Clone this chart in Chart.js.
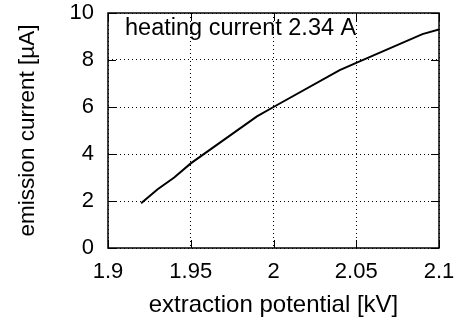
<!DOCTYPE html>
<html>
<head>
<meta charset="utf-8">
<script src="https://cdn.jsdelivr.net/npm/chart.js@4/dist/chart.umd.min.js"></script>
<style>
    html, body { margin: 0; padding: 0; background: #fff; }
    #wrap { width: 457px; height: 325px; }
</style>
</head>
<body>
<div id="wrap"><canvas id="chart" width="457" height="325"></canvas></div>
<script>
// ==========================================
// Data
// ==========================================
const potential = [1.92, 1.93, 1.94, 1.95, 1.99, 2.00, 2.04, 2.05, 2.09, 2.10];
const emission  = [1.9, 2.5, 3.0, 3.6, 5.6, 6.0, 7.57, 7.88, 9.1, 9.3];
const xTicks = [1.9, 1.95, 2, 2.05, 2.1];
const yTicks = [0, 2, 4, 6, 8, 10];
const note = "heating current 2.34 A";

const FONT = "'Liberation Sans', Arial, sans-serif";

// frame, inward tics and the label inside the plot
const framePlugin = {
    id: "frame",
    afterDatasetsDraw(chart) {
        const ctx = chart.ctx;
        const a = chart.chartArea;
        const xs = chart.scales.x;
        const ys = chart.scales.y;
        const tic = 8;

        ctx.save();
        ctx.strokeStyle = "#000";
        ctx.lineWidth = 1;
        ctx.beginPath();
        xTicks.forEach(v => {
            const px = Math.round(xs.getPixelForValue(v)) + 0.5;
            ctx.moveTo(px, a.bottom); ctx.lineTo(px, a.bottom - tic);
            ctx.moveTo(px, a.top); ctx.lineTo(px, a.top + tic);
        });
        yTicks.forEach(v => {
            const py = Math.round(ys.getPixelForValue(v)) + 0.5;
            ctx.moveTo(a.left, py); ctx.lineTo(a.left + tic, py);
            ctx.moveTo(a.right, py); ctx.lineTo(a.right - tic, py);
        });
        ctx.stroke();

        ctx.lineWidth = 1.5;
        ctx.strokeRect(a.left, a.top, a.right - a.left, a.bottom - a.top);

        ctx.fillStyle = "#000";
        ctx.font = "23.5px " + FONT;
        ctx.textBaseline = "alphabetic";
        ctx.textAlign = "left";
        ctx.fillText(note, a.left + 17, a.top + 22);
        ctx.restore();
    }
};

new Chart(document.getElementById("chart"), {
    type: "scatter",
    data: {
        datasets: [{
            data: potential.map((x, i) => ({ x: x, y: emission[i] })),
            showLine: true,
            borderColor: "#000",
            borderWidth: 2,
            pointRadius: 0,
            tension: 0
        }]
    },
    options: {
        responsive: false,
        animation: false,
        layout: { padding: { left: 0, top: 13, right: 18, bottom: 0 } },
        plugins: {
            legend: { display: false },
            tooltip: { enabled: false }
        },
        scales: {
            x: {
                type: "linear",
                min: 1.9,
                max: 2.1,
                afterBuildTicks: s => { s.ticks = xTicks.map(v => ({ value: v })); },
                afterFit: s => {
                    s.height = 77;
                    s.paddingLeft = 0;
                    s.paddingRight = 0;
                },
                ticks: {
                    color: "#000",
                    font: { family: FONT, size: 22 },
                    padding: 11,
                    maxRotation: 0,
                    callback: v => String(+v.toFixed(2))
                },
                grid: {
                    color: "#000",
                    lineWidth: 1,
                    drawTicks: false
                },
                border: { display: false, dash: [1, 3] },
                title: {
                    display: true,
                    text: "extraction potential [kV]",
                    color: "#000",
                    font: { family: FONT, size: 24 },
                    padding: { top: 0, bottom: 5 }
                }
            },
            y: {
                min: 0,
                max: 10,
                afterBuildTicks: s => { s.ticks = yTicks.map(v => ({ value: v })); },
                afterFit: s => {
                    s.width = 108;
                    s.paddingTop = 0;
                    s.paddingBottom = 0;
                },
                ticks: {
                    color: "#000",
                    font: { family: FONT, size: 22 },
                    padding: 14
                },
                grid: {
                    color: "#000",
                    lineWidth: 1,
                    drawTicks: false
                },
                border: { display: false, dash: [1, 3] },
                title: {
                    display: true,
                    text: "emission current [\u00b5A]",
                    color: "#000",
                    font: { family: FONT, size: 22.5 },
                    padding: { top: 14, bottom: 0 }
                }
            }
        }
    },
    plugins: [framePlugin]
});
</script>
</body>
</html>
